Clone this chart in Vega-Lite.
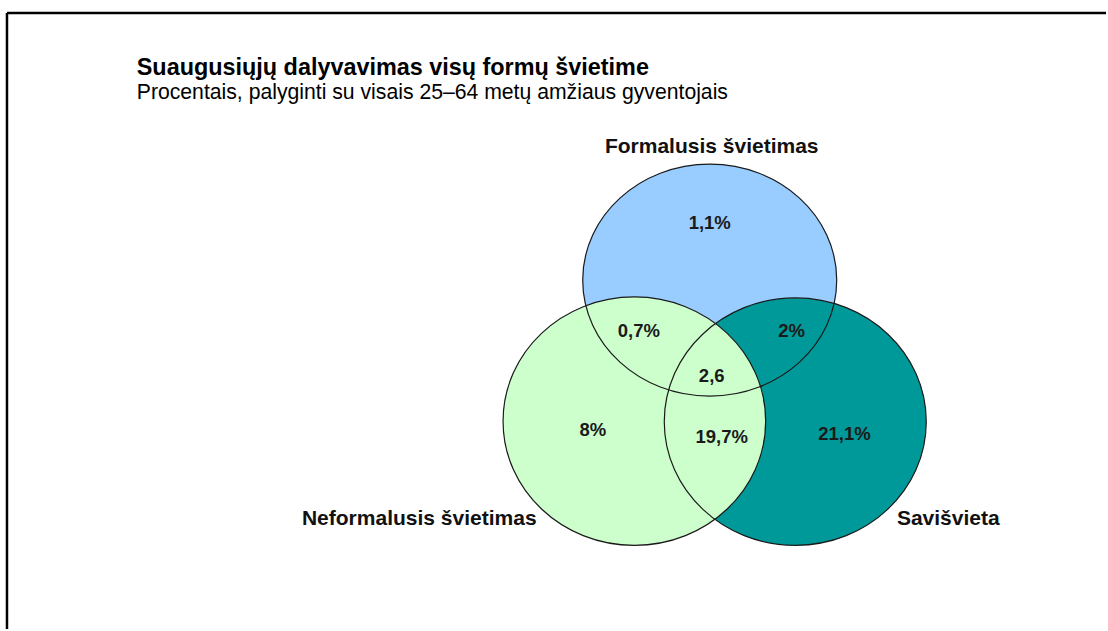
{
  "$schema": "https://vega.github.io/schema/vega-lite/v6.json",
  "width": 1108,
  "height": 631,
  "padding": 0,
  "autosize": {"type": "fit", "contains": "padding"},
  "background": "white",
  "config": {"view": {"stroke": null}, "font": "Liberation Sans"},
  "datasets": {
    "frame": [
      {"side": "top", "x": 7, "y": 13, "x2": 1108, "y2": 13},
      {"side": "left", "x": 7, "y": 13, "x2": 7, "y2": 631}
    ],
    "circles": [
      {"set": "Formalusis švietimas", "cx": 711, "cy": 281},
      {"set": "Savišvieta", "cx": 796.7, "cy": 423},
      {"set": "Neformalusis švietimas", "cx": 635.5, "cy": 422.5}
    ],
    "titles": [
      {"text": "Suaugusiųjų dalyvavimas visų formų švietime", "x": 137, "y": 75}
    ],
    "subtitles": [
      {"text": "Procentais, palyginti su visais 25–64 metų amžiaus gyventojais", "x": 137, "y": 99}
    ],
    "setnames": [
      {"text": "Formalusis švietimas", "x": 713, "y": 153},
      {"text": "Neformalusis švietimas", "x": 420, "y": 527},
      {"text": "Savišvieta", "x": 950, "y": 527}
    ],
    "shares": [
      {"text": "1,1%", "x": 711, "y": 230},
      {"text": "0,7%", "x": 640, "y": 338},
      {"text": "2%", "x": 793, "y": 338},
      {"text": "2,6", "x": 713, "y": 383},
      {"text": "8%", "x": 594, "y": 437},
      {"text": "19,7%", "x": 723, "y": 444},
      {"text": "21,1%", "x": 846, "y": 441}
    ]
  },
  "layer": [
    {
      "data": {"name": "frame"},
      "mark": {"type": "rule", "stroke": "black", "strokeWidth": 2.5},
      "encoding": {
        "x": {"field": "x", "type": "quantitative", "scale": {"domain": [0, 1108], "nice": false, "zero": false}, "axis": null},
        "y": {"field": "y", "type": "quantitative", "scale": {"domain": [0, 631], "nice": false, "zero": false, "reverse": true}, "axis": null},
        "x2": {"field": "x2"},
        "y2": {"field": "y2"}
      }
    },
    {
      "data": {"name": "circles"},
      "mark": {"type": "point", "filled": true, "opacity": 1, "size": 40000, "strokeWidth": 0},
      "encoding": {
        "x": {"field": "cx", "type": "quantitative", "axis": null},
        "y": {"field": "cy", "type": "quantitative", "axis": null},
        "shape": {"field": "set", "type": "nominal", "legend": null,
          "scale": {"domain": ["Formalusis švietimas", "Savišvieta", "Neformalusis švietimas"],
            "range": ["M-1.27,0A1.27,1.16,0,1,0,1.27,0A1.27,1.16,0,1,0,-1.27,0Z",
                      "M-1.31,0A1.31,1.237,0,1,0,1.31,0A1.31,1.237,0,1,0,-1.31,0Z",
                      "M-1.313,0A1.313,1.242,0,1,0,1.313,0A1.313,1.242,0,1,0,-1.313,0Z"]}},
        "fill": {"field": "set", "type": "nominal", "legend": null,
          "scale": {"domain": ["Formalusis švietimas", "Savišvieta", "Neformalusis švietimas"],
            "range": ["#99CCFF", "#009999", "#CCFFCC"]}}
      }
    },
    {
      "data": {"name": "circles"},
      "mark": {"type": "point", "filled": false, "opacity": 1, "size": 40000, "stroke": "#1a1a1a", "strokeWidth": 1.2},
      "encoding": {
        "x": {"field": "cx", "type": "quantitative", "axis": null},
        "y": {"field": "cy", "type": "quantitative", "axis": null},
        "shape": {"field": "set", "type": "nominal", "legend": null}
      }
    },
    {
      "data": {"name": "titles"},
      "mark": {"type": "text", "align": "left", "baseline": "alphabetic", "fontSize": 23.4, "fontWeight": "bold", "color": "black"},
      "encoding": {
        "x": {"field": "x", "type": "quantitative"},
        "y": {"field": "y", "type": "quantitative"},
        "text": {"field": "text"}
      }
    },
    {
      "data": {"name": "subtitles"},
      "mark": {"type": "text", "align": "left", "baseline": "alphabetic", "fontSize": 21.2, "color": "black"},
      "encoding": {
        "x": {"field": "x", "type": "quantitative"},
        "y": {"field": "y", "type": "quantitative"},
        "text": {"field": "text"}
      }
    },
    {
      "data": {"name": "setnames"},
      "mark": {"type": "text", "align": "center", "baseline": "alphabetic", "fontSize": 21, "fontWeight": "bold", "color": "#111"},
      "encoding": {
        "x": {"field": "x", "type": "quantitative"},
        "y": {"field": "y", "type": "quantitative"},
        "text": {"field": "text"}
      }
    },
    {
      "data": {"name": "shares"},
      "mark": {"type": "text", "align": "center", "baseline": "alphabetic", "fontSize": 18.5, "fontWeight": "bold", "color": "#1a1a1a"},
      "encoding": {
        "x": {"field": "x", "type": "quantitative"},
        "y": {"field": "y", "type": "quantitative"},
        "text": {"field": "text"}
      }
    }
  ]
}
